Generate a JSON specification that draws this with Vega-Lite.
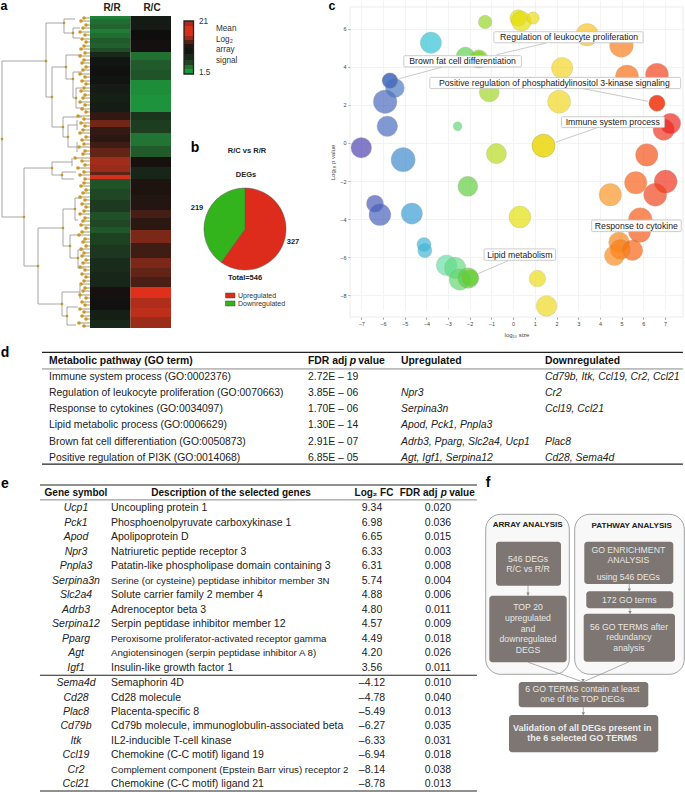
{"$schema":"https://vega.github.io/schema/vega-lite/v6.json","padding":0,"background":"white","config":{"font":"Liberation Sans","view":{"stroke":null}},"spacing":0,"resolve":{"scale":{"color":"independent","size":"independent"}},"vconcat":[
{"bounds":"flush","spacing":0,"resolve":{"scale":{"color":"independent","size":"independent"}},"hconcat":[
{"width":175,"height":345,"encoding":{"x":{"field":"x","type":"quantitative","axis":null,"scale":{"domain":[0,175],"nice":false,"zero":false}},"y":{"field":"y","type":"quantitative","axis":null,"scale":{"domain":[345,0],"nice":false,"zero":false}}},"layer":[
{"data":{"values":[{"x":90,"x2":130.5,"y":16,"y2":19,"v":-0.8},{"x":90,"x2":130.5,"y":19,"y2":24,"v":-0.68},{"x":90,"x2":130.5,"y":24,"y2":29,"v":-0.62},{"x":90,"x2":130.5,"y":29,"y2":33,"v":-0.78},{"x":90,"x2":130.5,"y":33,"y2":38,"v":-0.68},{"x":90,"x2":130.5,"y":38,"y2":43,"v":-0.55},{"x":90,"x2":130.5,"y":43,"y2":48,"v":-0.6},{"x":90,"x2":130.5,"y":48,"y2":52,"v":-0.45},{"x":90,"x2":130.5,"y":52,"y2":57,"v":-0.2},{"x":90,"x2":130.5,"y":57,"y2":66,"v":-0.05},{"x":90,"x2":130.5,"y":66,"y2":76,"v":-0.02},{"x":90,"x2":130.5,"y":76,"y2":84,"v":-0.04},{"x":90,"x2":130.5,"y":84,"y2":93,"v":-0.1},{"x":90,"x2":130.5,"y":93,"y2":103,"v":-0.12},{"x":90,"x2":130.5,"y":103,"y2":112,"v":-0.1},{"x":90,"x2":130.5,"y":112,"y2":120,"v":0.17},{"x":90,"x2":130.5,"y":120,"y2":127,"v":0.5},{"x":90,"x2":130.5,"y":127,"y2":135,"v":0.18},{"x":90,"x2":130.5,"y":135,"y2":142,"v":0.14},{"x":90,"x2":130.5,"y":142,"y2":148,"v":0.25},{"x":90,"x2":130.5,"y":148,"y2":157,"v":0.42},{"x":90,"x2":130.5,"y":157,"y2":165,"v":0.72},{"x":90,"x2":130.5,"y":165,"y2":172,"v":0.68},{"x":90,"x2":130.5,"y":172,"y2":175,"v":0.4},{"x":90,"x2":130.5,"y":175,"y2":179,"v":0.95},{"x":90,"x2":130.5,"y":179,"y2":189,"v":-0.5},{"x":90,"x2":130.5,"y":189,"y2":200,"v":-0.42},{"x":90,"x2":130.5,"y":200,"y2":212,"v":-0.33},{"x":90,"x2":130.5,"y":212,"y2":220,"v":-0.48},{"x":90,"x2":130.5,"y":220,"y2":227,"v":-0.42},{"x":90,"x2":130.5,"y":227,"y2":233,"v":-0.52},{"x":90,"x2":130.5,"y":233,"y2":245,"v":-0.38},{"x":90,"x2":130.5,"y":245,"y2":258,"v":-0.3},{"x":90,"x2":130.5,"y":258,"y2":272,"v":-0.22},{"x":90,"x2":130.5,"y":272,"y2":287,"v":-0.18},{"x":90,"x2":130.5,"y":287,"y2":298,"v":0.03},{"x":90,"x2":130.5,"y":298,"y2":310,"v":-0.02},{"x":90,"x2":130.5,"y":310,"y2":320,"v":-0.12},{"x":90,"x2":130.5,"y":320,"y2":328,"v":-0.2},
{"x":130.5,"x2":171,"y":16,"y2":30,"v":-0.08},{"x":130.5,"x2":171,"y":30,"y2":40,"v":0},{"x":130.5,"x2":171,"y":40,"y2":52,"v":0.02},{"x":130.5,"x2":171,"y":52,"y2":60,"v":-0.7},{"x":130.5,"x2":171,"y":60,"y2":70,"v":-0.55},{"x":130.5,"x2":171,"y":70,"y2":80,"v":-0.5},{"x":130.5,"x2":171,"y":80,"y2":95,"v":-0.88},{"x":130.5,"x2":171,"y":95,"y2":112,"v":-0.92},{"x":130.5,"x2":171,"y":112,"y2":120,"v":-0.28},{"x":130.5,"x2":171,"y":120,"y2":133,"v":-0.35},{"x":130.5,"x2":171,"y":133,"y2":146,"v":-0.72},{"x":130.5,"x2":171,"y":146,"y2":157,"v":-0.55},{"x":130.5,"x2":171,"y":157,"y2":167,"v":0.03},{"x":130.5,"x2":171,"y":167,"y2":179,"v":-0.18},{"x":130.5,"x2":171,"y":179,"y2":195,"v":0.07},{"x":130.5,"x2":171,"y":195,"y2":210,"v":0.1},{"x":130.5,"x2":171,"y":210,"y2":218,"v":0.28},{"x":130.5,"x2":171,"y":218,"y2":230,"v":0.15},{"x":130.5,"x2":171,"y":230,"y2":243,"v":0.55},{"x":130.5,"x2":171,"y":243,"y2":258,"v":0.25},{"x":130.5,"x2":171,"y":258,"y2":268,"v":0.55},{"x":130.5,"x2":171,"y":268,"y2":277,"v":0.42},{"x":130.5,"x2":171,"y":277,"y2":287,"v":0.3},{"x":130.5,"x2":171,"y":287,"y2":298,"v":1},{"x":130.5,"x2":171,"y":298,"y2":308,"v":0.78},{"x":130.5,"x2":171,"y":308,"y2":317,"v":0.85},{"x":130.5,"x2":171,"y":317,"y2":328,"v":0.7}]},"mark":"rect","encoding":{"x2":{"field":"x2"},"y2":{"field":"y2"},"color":{"field":"v","type":"quantitative","legend":null,"scale":{"domain":[-1,0,1],"range":["#17a040","#0e0e0e","#e0301c"]}}}},
{"data":{"values":[{"x":2,"y":61,"x2":2,"y2":217},{"x":2,"y":61,"x2":46,"y2":61},{"x":2,"y":217,"x2":24,"y2":217},{"x":46,"y":23,"x2":46,"y2":97},{"x":46,"y":23,"x2":64,"y2":23},{"x":46,"y":97,"x2":52,"y2":97},{"x":64,"y":19,"x2":64,"y2":33},{"x":64,"y":19,"x2":75,"y2":19},{"x":64,"y":33,"x2":73,"y2":33},{"x":73,"y":28,"x2":73,"y2":38},{"x":73,"y":28,"x2":80,"y2":28},{"x":73,"y":38,"x2":80,"y2":38},{"x":52,"y":67,"x2":52,"y2":127},{"x":52,"y":67,"x2":66,"y2":67},{"x":52,"y":127,"x2":63,"y2":127},{"x":66,"y":55,"x2":66,"y2":79},{"x":66,"y":55,"x2":82,"y2":55},{"x":66,"y":79,"x2":73,"y2":79},{"x":73,"y":72,"x2":73,"y2":98},{"x":73,"y":72,"x2":82,"y2":72},{"x":73,"y":98,"x2":76,"y2":98},{"x":76,"y":88,"x2":76,"y2":108},{"x":76,"y":88,"x2":84,"y2":88},{"x":76,"y":108,"x2":84,"y2":108},{"x":63,"y":117,"x2":63,"y2":137},{"x":63,"y":117,"x2":82,"y2":117},{"x":63,"y":137,"x2":68,"y2":137},{"x":68,"y":125,"x2":68,"y2":147},{"x":68,"y":125,"x2":77,"y2":125},{"x":68,"y":147,"x2":77,"y2":147},{"x":77,"y":120,"x2":77,"y2":130},{"x":77,"y":142,"x2":77,"y2":152},{"x":24,"y":168,"x2":24,"y2":266},{"x":24,"y":168,"x2":52,"y2":168},{"x":24,"y":266,"x2":38,"y2":266},{"x":52,"y":162,"x2":52,"y2":175},{"x":52,"y":162,"x2":72,"y2":162},{"x":52,"y":175,"x2":62,"y2":175},{"x":62,"y":172,"x2":62,"y2":179},{"x":62,"y":172,"x2":76,"y2":172},{"x":62,"y":179,"x2":74,"y2":179},{"x":72,"y":158,"x2":72,"y2":166},{"x":38,"y":228,"x2":38,"y2":304},{"x":38,"y":228,"x2":63,"y2":228},{"x":38,"y":304,"x2":62,"y2":304},{"x":63,"y":209,"x2":63,"y2":246},{"x":63,"y":209,"x2":75,"y2":209},{"x":63,"y":246,"x2":70,"y2":246},{"x":75,"y":198,"x2":75,"y2":220},{"x":75,"y":198,"x2":82,"y2":198},{"x":75,"y":220,"x2":78,"y2":220},{"x":70,"y":235,"x2":70,"y2":258},{"x":70,"y":235,"x2":79,"y2":235},{"x":70,"y":258,"x2":78,"y2":258},{"x":78,"y":250,"x2":78,"y2":268},{"x":78,"y":250,"x2":84,"y2":250},{"x":78,"y":268,"x2":84,"y2":268},{"x":62,"y":292,"x2":62,"y2":316},{"x":62,"y":292,"x2":80,"y2":292},{"x":62,"y":316,"x2":67,"y2":316},{"x":67,"y":307,"x2":67,"y2":325},{"x":67,"y":307,"x2":78,"y2":307},{"x":67,"y":325,"x2":76,"y2":325},{"x":80,"y":285,"x2":80,"y2":299}]},"mark":{"type":"rule","stroke":"#8f8f8f","strokeWidth":0.8},"encoding":{"x2":{"field":"x2"},"y2":{"field":"y2"}}},
{"data":{"values":[{"x":84,"y":18},{"x":81,"y":21},{"x":86,"y":25},{"x":83,"y":28},{"x":80,"y":32},{"x":85,"y":35},{"x":82,"y":39},{"x":86,"y":42},{"x":84,"y":46},{"x":81,"y":49},{"x":85,"y":53},{"x":80,"y":56},{"x":84,"y":60},{"x":82,"y":63},{"x":86,"y":67},{"x":83,"y":70},{"x":80,"y":74},{"x":85,"y":77},{"x":82,"y":81},{"x":86,"y":84},{"x":84,"y":88},{"x":81,"y":91},{"x":85,"y":95},{"x":83,"y":98},{"x":80,"y":102},{"x":85,"y":105},{"x":82,"y":109},{"x":86,"y":112},{"x":78,"y":116},{"x":84,"y":119},{"x":81,"y":123},{"x":85,"y":126},{"x":83,"y":130},{"x":80,"y":133},{"x":86,"y":137},{"x":82,"y":140},{"x":84,"y":144},{"x":79,"y":147},{"x":85,"y":151},{"x":83,"y":154},{"x":75,"y":158},{"x":82,"y":161},{"x":85,"y":165},{"x":78,"y":168},{"x":84,"y":172},{"x":80,"y":175},{"x":85,"y":179},{"x":84,"y":183},{"x":81,"y":186},{"x":86,"y":190},{"x":83,"y":193},{"x":80,"y":197},{"x":85,"y":200},{"x":82,"y":204},{"x":86,"y":207},{"x":84,"y":211},{"x":80,"y":214},{"x":85,"y":218},{"x":83,"y":221},{"x":81,"y":225},{"x":86,"y":228},{"x":82,"y":232},{"x":79,"y":235},{"x":85,"y":239},{"x":83,"y":242},{"x":86,"y":246},{"x":81,"y":249},{"x":84,"y":253},{"x":82,"y":256},{"x":86,"y":260},{"x":83,"y":263},{"x":80,"y":267},{"x":85,"y":270},{"x":82,"y":274},{"x":86,"y":277},{"x":84,"y":281},{"x":81,"y":284},{"x":85,"y":288},{"x":83,"y":291},{"x":80,"y":295},{"x":86,"y":298},{"x":82,"y":302},{"x":85,"y":305},{"x":80,"y":309},{"x":84,"y":312},{"x":82,"y":316},{"x":86,"y":319},{"x":79,"y":323},{"x":84,"y":326}]},"layer":[{"mark":{"type":"rule","stroke":"#a08a50","strokeWidth":0.9},"encoding":{"x2":{"datum":90}}},{"mark":{"type":"circle","color":"#c8921e","opacity":0.95,"size":13}}]},
{"data":{"values":[{"x":2,"y":139},{"x":46,"y":61},{"x":52,"y":97},{"x":64,"y":23},{"x":73,"y":33},{"x":66,"y":67},{"x":73,"y":79},{"x":76,"y":98},{"x":63,"y":127},{"x":68,"y":137},{"x":24,"y":217},{"x":52,"y":168},{"x":62,"y":175},{"x":38,"y":266},{"x":63,"y":228},{"x":75,"y":209},{"x":70,"y":246},{"x":78,"y":258},{"x":62,"y":304},{"x":67,"y":316}]},"mark":{"type":"circle","color":"#c8921e","size":7,"opacity":1}},
{"data":{"values":[{"x":112,"y":8,"t":"R/R"},{"x":152,"y":8,"t":"R/C"}]},"mark":{"type":"text","fontSize":10,"fontWeight":"bold","color":"#222"},"encoding":{"text":{"field":"t"}}},
{"data":{"values":[{"x":4,"y":10,"t":"a"}]},"mark":{"type":"text","fontSize":12.5,"fontWeight":"bold","color":"#000","baseline":"alphabetic"},"encoding":{"text":{"field":"t"}}}
]},
{"width":175,"height":345,"resolve":{"scale":{"color":"independent"}},"encoding":{"x":{"field":"x","type":"quantitative","axis":null,"scale":{"domain":[175,350],"nice":false,"zero":false}},"y":{"field":"y","type":"quantitative","axis":null,"scale":{"domain":[345,0],"nice":false,"zero":false}}},"layer":[
{"data":{"values":[{"x":184,"x2":193.5,"y":21,"y2":26,"v":0.75},{"x":184,"x2":193.5,"y":26,"y2":36,"v":0.97},{"x":184,"x2":193.5,"y":36,"y2":40,"v":0.7},{"x":184,"x2":193.5,"y":40,"y2":44,"v":0.35},{"x":184,"x2":193.5,"y":44,"y2":48,"v":0.1},{"x":184,"x2":193.5,"y":48,"y2":54,"v":-0.05},{"x":184,"x2":193.5,"y":54,"y2":60,"v":-0.2},{"x":184,"x2":193.5,"y":60,"y2":65,"v":-0.4},{"x":184,"x2":193.5,"y":65,"y2":69,"v":-0.7},{"x":184,"x2":193.5,"y":69,"y2":74,"v":-0.95}]},"mark":"rect","encoding":{"x2":{"field":"x2"},"y2":{"field":"y2"},"color":{"field":"v","type":"quantitative","legend":null,"scale":{"domain":[-1,0,1],"range":["#17a040","#0e0e0e","#e0301c"]}}}},
{"data":{"values":[{"x":184,"x2":193.5,"y":21,"y2":74}]},"mark":{"type":"rect","fillOpacity":0,"stroke":"#222","strokeWidth":1.3},"encoding":{"x2":{"field":"x2"},"y2":{"field":"y2"}}},
{"data":{"values":[{"x":199,"y":22,"t":"21"},{"x":199,"y":73,"t":"1.5"},{"x":216,"y":29,"t":"Mean"},{"x":216,"y":40,"t":"Log₂"},{"x":216,"y":50,"t":"array"},{"x":216,"y":61,"t":"signal"}]},"mark":{"type":"text","fontSize":8.2,"align":"left","color":"#333"},"encoding":{"text":{"field":"t"}}},
{"data":{"values":[{"x":332,"y":10,"t":"c"}]},"mark":{"type":"text","fontSize":12.5,"fontWeight":"bold","color":"#000","baseline":"alphabetic"},"encoding":{"text":{"field":"t"}}},
{"data":{"values":[{"x":245,"y":229,"dir":"Upregulated","count":327,"k":1},{"x":245,"y":229,"dir":"Downregulated","count":219,"k":2}]},"mark":{"type":"arc","outerRadius":41,"stroke":"#555","strokeWidth":0.5},"encoding":{"theta":{"field":"count","type":"quantitative","stack":true},"order":{"field":"k"},"color":{"field":"dir","type":"nominal","legend":null,"scale":{"domain":["Upregulated","Downregulated"],"range":["#dd2c1c","#34b41c"]}}}},
{"data":{"values":[{"x":195,"y":148,"t":"b"}]},"mark":{"type":"text","fontSize":14,"fontWeight":"bold","color":"#000"},"encoding":{"text":{"field":"t"}}},
{"data":{"values":[{"x":247,"y":151,"t":"R/C vs R/R"},{"x":246,"y":175,"t":"DEGs"},{"x":197,"y":208,"t":"219"},{"x":293,"y":242,"t":"327"},{"x":245,"y":278,"t":"Total=546"}]},"mark":{"type":"text","fontSize":7.5,"fontWeight":"bold","color":"#222"},"encoding":{"text":{"field":"t"}}},
{"data":{"values":[{"x":225.5,"x2":235,"y":293,"y2":298,"dir":"Upregulated"},{"x":225.5,"x2":235,"y":301,"y2":306,"dir":"Downregulated"}]},"mark":{"type":"rect","stroke":"#444","strokeWidth":0.5},"encoding":{"x2":{"field":"x2"},"y2":{"field":"y2"},"color":{"field":"dir","type":"nominal","legend":null,"scale":{"domain":["Upregulated","Downregulated"],"range":["#dd2c1c","#34b41c"]}}}},
{"data":{"values":[{"x":238,"y":296,"t":"Upregulated"},{"x":238,"y":304,"t":"Downregulated"}]},"mark":{"type":"text","fontSize":7,"align":"left","color":"#333"},"encoding":{"text":{"field":"t"}}}
]},
{"width":333,"height":317,"encoding":{"x":{"field":"x","type":"quantitative","scale":{"domain":[-7.52,7.83],"nice":false,"zero":false},"axis":{"values":[-7,-6,-5,-4,-3,-2,-1,0,1,2,3,4,5,6,7],"title":"log₁₀ size","titleFontSize":6,"titleFontWeight":"normal","titleColor":"#444","titlePadding":5,"labelFontSize":5.5,"labelColor":"#444","tickColor":"#999","tickSize":2,"labelPadding":2,"domain":false,"gridColor":"#f3f3f3"}},"y":{"field":"y","type":"quantitative","scale":{"domain":[-9.15,7.15],"range":[317,7],"nice":false,"zero":false},"axis":{"values":[-8,-6,-4,-2,0,2,4,6],"title":"Log₁₀ p value","titleFontSize":6,"titleFontWeight":"normal","titleColor":"#444","titlePadding":4,"labelFontSize":5.5,"labelColor":"#444","tickColor":"#999","tickSize":2,"labelPadding":2,"domain":false,"gridColor":"#f3f3f3"}}},"layer":[
{"data":{"values":[{"x":-7.52,"x2":7.83,"y":-9.15,"y2":7.15}]},"mark":{"type":"rect","fillOpacity":0,"stroke":"#e6e6e6","strokeWidth":0.8},"encoding":{"x2":{"field":"x2"},"y2":{"field":"y2"}}},
{"data":{"values":[{"x":-7,"y":-0.25,"s":136},{"x":-5.9,"y":2.17,"s":178},{"x":-5.45,"y":2.89,"s":114},{"x":-5.68,"y":3.28,"s":75},{"x":-5.68,"y":3.28,"s":75},{"x":-5.8,"y":0.88,"s":136},{"x":-5.07,"y":-0.88,"s":187},{"x":-6.37,"y":-3.19,"s":93},{"x":-6.14,"y":-3.77,"s":152},{"x":-4.67,"y":-3.71,"s":144},{"x":-4.11,"y":-5.34,"s":64},{"x":-4.07,"y":-5.66,"s":64},{"x":-3.79,"y":5.27,"s":144},{"x":-2.56,"y":0.88,"s":25},{"x":-2.2,"y":4.56,"s":107},{"x":-1.58,"y":4.42,"s":107},{"x":-1.58,"y":4.42,"s":70},{"x":-1.29,"y":6.36,"s":59},{"x":-1.1,"y":2.68,"s":128},{"x":-0.77,"y":-0.56,"s":128},{"x":-2.09,"y":-2.28,"s":128},{"x":-3.07,"y":-6.43,"s":136},{"x":-2.67,"y":-6.57,"s":144},{"x":-2.46,"y":-7.18,"s":144},{"x":-2.07,"y":-7.1,"s":136},{"x":-1.97,"y":-7.1,"s":87},{"x":0.23,"y":6.57,"s":87},{"x":0.38,"y":6.4,"s":128},{"x":0.92,"y":6.57,"s":49},{"x":1.4,"y":-0.14,"s":169},{"x":1.4,"y":-0.14,"s":169},{"x":0.31,"y":-3.89,"s":152},{"x":1.12,"y":-7.13,"s":87},{"x":1.54,"y":-8.57,"s":136},{"x":2.26,"y":3.94,"s":144},{"x":2.12,"y":2.17,"s":169},{"x":3.41,"y":5.69,"s":160},{"x":4.99,"y":5.13,"s":178},{"x":5.25,"y":3.5,"s":169},{"x":6.63,"y":3.59,"s":169},{"x":6.63,"y":2.09,"s":81},{"x":6.63,"y":2.09,"s":81},{"x":6.94,"y":0.7,"s":144},{"x":7.25,"y":1.02,"s":136},{"x":6.16,"y":-0.63,"s":160},{"x":5.65,"y":-2.09,"s":160},{"x":7.03,"y":-2.03,"s":169},{"x":6.55,"y":-2.72,"s":169},{"x":4.48,"y":-2.72,"s":160},{"x":5.86,"y":-4.03,"s":178},{"x":5.83,"y":-4.64,"s":160},{"x":4.88,"y":-5.22,"s":136},{"x":5.5,"y":-5.64,"s":136},{"x":4.94,"y":-5.6,"s":128},{"x":4.67,"y":-5.92,"s":128}]},"mark":{"type":"circle","opacity":0.68,"stroke":"#8a8a6a","strokeWidth":0.3},"encoding":{"size":{"field":"s","type":"quantitative","legend":null,"scale":{"domain":[0,100],"range":[0,314]}},"color":{"field":"x","type":"quantitative","legend":null,"scale":{"domain":[-7,-5.5,-4,-3,-2,-1,0,2,3.4,4.5,5.5,7],"range":["#4b3fb0","#4a72c0","#42b8d8","#6fe0a0","#60cc30","#a8d820","#e0e000","#f2d820","#fbc020","#fb9020","#f86010","#ee2e1a"]}}}},
{"data":{"values":[{"x":1.54,"y":5.26,"x2":-0.77,"y2":4.64},{"x":-3.3,"y":3.98,"x2":-5.25,"y2":3.38},{"x":3.22,"y":2.86,"x2":6.22,"y2":2.19},{"x":3.84,"y":0.79,"x2":1.96,"y2":0.04},{"x":-0.23,"y":-6.19,"x2":-1.61,"y2":-6.87}]},"mark":{"type":"rule","stroke":"#bbb","strokeWidth":0.8},"encoding":{"x2":{"field":"x2"},"y2":{"field":"y2"}}},
{"data":{"values":[{"x":-0.89,"x2":5.99,"y":5.85,"y2":5.27},{"x":-5.04,"x2":0.38,"y":4.59,"y2":4.0},{"x":-3.84,"x2":7.72,"y":3.45,"y2":2.86},{"x":2.23,"x2":6.98,"y":1.38,"y2":0.81},{"x":3.62,"x2":7.75,"y":-4.05,"y2":-4.66},{"x":-1.34,"x2":1.96,"y":-5.57,"y2":-6.17}]},"mark":{"type":"rect","fill":"#ffffff","opacity":0.95,"stroke":"#c4c4c4","strokeWidth":0.9,"cornerRadius":1},"encoding":{"x2":{"field":"x2"},"y2":{"field":"y2"}}},
{"data":{"values":[{"x":2.58,"y":5.56,"t":"Regulation of leukocyte proliferation"},{"x":-2.33,"y":4.29,"t":"Brown fat cell differentiation"},{"x":1.9,"y":3.15,"t":"Positive regulation of phosphatidylinositol 3-kinase signaling"},{"x":4.59,"y":1.1,"t":"Immune system process"},{"x":5.68,"y":-4.35,"t":"Response to cytokine"},{"x":0.31,"y":-5.87,"t":"Lipid metabolism"}]},"mark":{"type":"text","fontSize":8.7,"color":"#222"},"encoding":{"text":{"field":"t"}}}
]}
]},
{"width":685,"height":130,"encoding":{"x":{"field":"col","type":"quantitative","axis":null,"scale":{"domain":[0,1,2,3],"range":[49,308,401,545],"nice":false,"zero":false}},"y":{"field":"row","type":"quantitative","axis":null,"scale":{"domain":[0,6],"range":[15.7,112.7],"nice":false,"zero":false}}},"layer":[
{"data":{"values":[{"col":-0.027,"col2":3.958,"row":-0.52},{"col":-0.027,"col2":3.958,"row":6.4}]},"mark":{"type":"rule","stroke":"#222","strokeWidth":1.2},"encoding":{"x2":{"field":"col2"}}},
{"data":{"values":[{"col":-0.027,"col2":3.958,"row":0.51}]},"mark":{"type":"rule","stroke":"#555","strokeWidth":0.7},"encoding":{"x2":{"field":"col2"}}},
{"data":{"values":[{"col":-0.17,"row":-0.5,"t":"d"}]},"mark":{"type":"text","fontSize":14,"fontWeight":"bold","color":"#000"},"encoding":{"text":{"field":"t"}}},
{"data":{"values":[{"col":0,"row":0,"t":"Metabolic pathway (GO term)"},{"col":1,"row":0,"t":"FDR adj"},{"col":1.54,"row":0,"t":"value"},{"col":2,"row":0,"t":"Upregulated"},{"col":3,"row":0,"t":"Downregulated"}]},"mark":{"type":"text","fontSize":10.4,"fontWeight":"bold","align":"left","color":"#111"},"encoding":{"text":{"field":"t"}}},
{"data":{"values":[{"col":1.45,"row":0,"t":"p"}]},"mark":{"type":"text","fontSize":10.4,"fontWeight":"bold","fontStyle":"italic","align":"left","color":"#111"},"encoding":{"text":{"field":"t"}}},
{"data":{"values":[{"col":0,"row":1,"t":"Immune system process (GO:0002376)"},{"col":1,"row":1,"t":"2.72E – 19"},{"col":0,"row":2,"t":"Regulation of leukocyte proliferation (GO:0070663)"},{"col":1,"row":2,"t":"3.85E – 06"},{"col":0,"row":3,"t":"Response to cytokines (GO:0034097)"},{"col":1,"row":3,"t":"1.70E – 06"},{"col":0,"row":4,"t":"Lipid metabolic process (GO:0006629)"},{"col":1,"row":4,"t":"1.30E – 14"},{"col":0,"row":5,"t":"Brown fat cell differentiation (GO:0050873)"},{"col":1,"row":5,"t":"2.91E – 07"},{"col":0,"row":6,"t":"Positive regulation of PI3K (GO:0014068)"},{"col":1,"row":6,"t":"6.85E – 05"}]},"mark":{"type":"text","fontSize":10.4,"align":"left","color":"#222"},"encoding":{"text":{"field":"t"}}},
{"data":{"values":[{"col":3,"row":1,"t":"Cd79b, Itk, Ccl19, Cr2, Ccl21"},{"col":2,"row":2,"t":"Npr3"},{"col":3,"row":2,"t":"Cr2"},{"col":2,"row":3,"t":"Serpina3n"},{"col":3,"row":3,"t":"Ccl19, Ccl21"},{"col":2,"row":4,"t":"Apod, Pck1, Pnpla3"},{"col":2,"row":5,"t":"Adrb3, Pparg, Slc2a4, Ucp1"},{"col":3,"row":5,"t":"Plac8"},{"col":2,"row":6,"t":"Agt, Igf1, Serpina12"},{"col":3,"row":6,"t":"Cd28, Sema4d"}]},"mark":{"type":"text","fontSize":10.4,"fontStyle":"italic","align":"left","color":"#222"},"encoding":{"text":{"field":"t"}}}
]},
{"bounds":"flush","spacing":0,"hconcat":[
{"width":480,"height":317,"encoding":{"x":{"field":"col","type":"quantitative","axis":null,"scale":{"domain":[0,1,2,3],"range":[76,111,372,438],"nice":false,"zero":false}},"y":{"field":"row","type":"quantitative","axis":null,"scale":{"domain":[0,1,12,13,20],"range":[18.3,33.3,193,208.3,309],"nice":false,"zero":false}}},"layer":[
{"data":{"values":[{"col":-1.03,"col2":3.59,"row":-0.55},{"col":-1.03,"col2":3.59,"row":12.47},{"col":-1.03,"col2":3.59,"row":20.49}]},"mark":{"type":"rule","stroke":"#222","strokeWidth":1.1},"encoding":{"x2":{"field":"col2"}}},
{"data":{"values":[{"col":-1.03,"col2":3.59,"row":0.44}]},"mark":{"type":"rule","stroke":"#555","strokeWidth":0.7},"encoding":{"x2":{"field":"col2"}}},
{"data":{"values":[{"col":-2.03,"row":-0.6,"t":"e"}]},"mark":{"type":"text","fontSize":14,"fontWeight":"bold","color":"#000"},"encoding":{"text":{"field":"t"}}},
{"data":{"values":[{"col":0,"row":0,"t":"Gene symbol"},{"col":1.46,"row":0,"t":"Description of the selected genes"},{"col":2.03,"row":0,"t":"Log₂ FC"}]},"mark":{"type":"text","fontSize":10,"fontWeight":"bold","color":"#111"},"encoding":{"text":{"field":"t"}}},
{"data":{"values":[{"col":2.42,"row":0,"t":"FDR adj"},{"col":3.17,"row":0,"t":"value"}]},"mark":{"type":"text","fontSize":10,"fontWeight":"bold","align":"left","color":"#111"},"encoding":{"text":{"field":"t"}}},
{"data":{"values":[{"col":3.04,"row":0,"t":"p"}]},"mark":{"type":"text","fontSize":10,"fontWeight":"bold","fontStyle":"italic","align":"left","color":"#111"},"encoding":{"text":{"field":"t"}}},
{"data":{"values":[{"col":0,"row":1,"t":"Ucp1"},{"col":0,"row":2,"t":"Pck1"},{"col":0,"row":3,"t":"Apod"},{"col":0,"row":4,"t":"Npr3"},{"col":0,"row":5,"t":"Pnpla3"},{"col":0,"row":6,"t":"Serpina3n"},{"col":0,"row":7,"t":"Slc2a4"},{"col":0,"row":8,"t":"Adrb3"},{"col":0,"row":9,"t":"Serpina12"},{"col":0,"row":10,"t":"Pparg"},{"col":0,"row":11,"t":"Agt"},{"col":0,"row":12,"t":"Igf1"},{"col":0,"row":13,"t":"Sema4d"},{"col":0,"row":14,"t":"Cd28"},{"col":0,"row":15,"t":"Plac8"},{"col":0,"row":16,"t":"Cd79b"},{"col":0,"row":17,"t":"Itk"},{"col":0,"row":18,"t":"Ccl19"},{"col":0,"row":19,"t":"Cr2"},{"col":0,"row":20,"t":"Ccl21"}]},"mark":{"type":"text","fontSize":10.5,"fontStyle":"italic","color":"#222"},"encoding":{"text":{"field":"t"}}},
{"data":{"values":[{"col":1,"row":1,"t":"Uncoupling protein 1"},{"col":1,"row":2,"t":"Phosphoenolpyruvate carboxykinase 1"},{"col":1,"row":3,"t":"Apolipoprotein D"},{"col":1,"row":4,"t":"Natriuretic peptide receptor 3"},{"col":1,"row":5,"t":"Patatin-like phospholipase domain containing 3"},{"col":1,"row":7,"t":"Solute carrier family 2 member 4"},{"col":1,"row":8,"t":"Adrenoceptor beta 3"},{"col":1,"row":9,"t":"Serpin peptidase inhibitor member 12"},{"col":1,"row":12,"t":"Insulin-like growth factor 1"},{"col":1,"row":13,"t":"Semaphorin 4D"},{"col":1,"row":14,"t":"Cd28 molecule"},{"col":1,"row":15,"t":"Placenta-specific 8"},{"col":1,"row":16,"t":"Cd79b molecule, immunoglobulin-associated beta"},{"col":1,"row":17,"t":"IL2-inducible T-cell kinase"},{"col":1,"row":18,"t":"Chemokine (C-C motif) ligand 19"},{"col":1,"row":20,"t":"Chemokine (C-C motif) ligand 21"}]},"mark":{"type":"text","fontSize":10.5,"align":"left","color":"#222"},"encoding":{"text":{"field":"t"}}},
{"data":{"values":[{"col":1,"row":6,"t":"Serine (or cysteine) peptidase inhibitor member 3N"},{"col":1,"row":10,"t":"Peroxisome proliferator-activated receptor gamma"},{"col":1,"row":11,"t":"Angiotensinogen (serpin peptidase inhibitor A 8)"},{"col":1,"row":19,"t":"Complement component (Epstein Barr virus) receptor 2"}]},"mark":{"type":"text","fontSize":9.7,"align":"left","color":"#222"},"encoding":{"text":{"field":"t"}}},
{"data":{"values":[{"col":2,"row":1,"t":"9.34"},{"col":3,"row":1,"t":"0.020"},{"col":2,"row":2,"t":"6.98"},{"col":3,"row":2,"t":"0.036"},{"col":2,"row":3,"t":"6.65"},{"col":3,"row":3,"t":"0.015"},{"col":2,"row":4,"t":"6.33"},{"col":3,"row":4,"t":"0.003"},{"col":2,"row":5,"t":"6.31"},{"col":3,"row":5,"t":"0.008"},{"col":2,"row":6,"t":"5.74"},{"col":3,"row":6,"t":"0.004"},{"col":2,"row":7,"t":"4.88"},{"col":3,"row":7,"t":"0.006"},{"col":2,"row":8,"t":"4.80"},{"col":3,"row":8,"t":"0.011"},{"col":2,"row":9,"t":"4.57"},{"col":3,"row":9,"t":"0.009"},{"col":2,"row":10,"t":"4.49"},{"col":3,"row":10,"t":"0.018"},{"col":2,"row":11,"t":"4.20"},{"col":3,"row":11,"t":"0.026"},{"col":2,"row":12,"t":"3.56"},{"col":3,"row":12,"t":"0.011"},{"col":2,"row":13,"t":"–4.12"},{"col":3,"row":13,"t":"0.010"},{"col":2,"row":14,"t":"–4.78"},{"col":3,"row":14,"t":"0.040"},{"col":2,"row":15,"t":"–5.49"},{"col":3,"row":15,"t":"0.013"},{"col":2,"row":16,"t":"–6.27"},{"col":3,"row":16,"t":"0.035"},{"col":2,"row":17,"t":"–6.33"},{"col":3,"row":17,"t":"0.031"},{"col":2,"row":18,"t":"–6.94"},{"col":3,"row":18,"t":"0.018"},{"col":2,"row":19,"t":"–8.14"},{"col":3,"row":19,"t":"0.038"},{"col":2,"row":20,"t":"–8.78"},{"col":3,"row":20,"t":"0.013"}]},"mark":{"type":"text","fontSize":10.5,"color":"#222"},"encoding":{"text":{"field":"t"}}}
]},
{"width":205,"height":317,"encoding":{"x":{"field":"x","type":"quantitative","axis":null,"scale":{"domain":[480,685],"nice":false,"zero":false}},"y":{"field":"y","type":"quantitative","axis":null,"scale":{"domain":[792,475],"nice":false,"zero":false}}},"layer":[
{"data":{"values":[{"x":485.7,"x2":569.3,"y":514.3,"y2":674.3},{"x":574.7,"x2":684.3,"y":514.3,"y2":674.3}]},"mark":{"type":"rect","fill":"#f8f8f8","stroke":"#8c8c8c","strokeWidth":0.8,"cornerRadius":15},"encoding":{"x2":{"field":"x2"},"y2":{"field":"y2"}}},
{"data":{"values":[{"x":528,"y":585.7,"x2":528,"y2":595.7},{"x":629.3,"y":584,"x2":629.3,"y2":591.3},{"x":630,"y":608.3,"x2":630,"y2":613.7},{"x":528.3,"y":662.3,"x2":583,"y2":682},{"x":629.3,"y":661.7,"x2":583,"y2":682},{"x":583.3,"y":707.3,"x2":583.3,"y2":715}]},"mark":{"type":"rule","stroke":"#999","strokeWidth":0.8},"encoding":{"x2":{"field":"x2"},"y2":{"field":"y2"}}},
{"data":{"values":[{"x":528,"y":594},{"x":629.3,"y":590},{"x":630,"y":612.5},{"x":583,"y":680.5},{"x":583.3,"y":713.7}]},"mark":{"type":"point","shape":"triangle-down","filled":true,"color":"#888","size":12,"opacity":1}},
{"data":{"values":[{"x":496,"x2":561,"y":541.7,"y2":585.7},{"x":489.3,"x2":566.7,"y":595.7,"y2":662.3},{"x":584.3,"x2":673.3,"y":541.7,"y2":584},{"x":586.3,"x2":673.3,"y":591.3,"y2":608.3},{"x":583.7,"x2":675,"y":613.7,"y2":661.7},{"x":518.7,"x2":648.3,"y":682,"y2":707.3},{"x":509,"x2":658.3,"y":715,"y2":752.3}]},"mark":{"type":"rect","fill":"#7d7672","cornerRadius":3},"encoding":{"x2":{"field":"x2"},"y2":{"field":"y2"}}},
{"data":{"values":[{"x":528,"y":558.7,"t":"546 DEGs"},{"x":528,"y":569,"t":"R/C vs R/R"},{"x":528,"y":607,"t":"TOP 20"},{"x":528,"y":617.7,"t":"upregulated"},{"x":528,"y":628.7,"t":"and"},{"x":528,"y":639.3,"t":"downregulated"},{"x":528,"y":650,"t":"DEGS"},{"x":628.3,"y":550,"t":"GO ENRICHMENT"},{"x":628.3,"y":560,"t":"ANALYSIS"},{"x":628.3,"y":576.7,"t":"using 546 DEGs"},{"x":629.3,"y":599.7,"t":"172 GO terms"},{"x":629,"y":626.7,"t":"56 GO TERMS after"},{"x":629,"y":637.3,"t":"redundancy"},{"x":629,"y":647.7,"t":"analysis"},{"x":582.3,"y":688.7,"t":"6 GO TERMS contain at least"},{"x":582.3,"y":699.3,"t":"one of the TOP DEGs"}]},"mark":{"type":"text","fontSize":8.7,"color":"#e8e6e4"},"encoding":{"text":{"field":"t"}}},
{"data":{"values":[{"x":582.3,"y":727.7,"t":"Validation of all DEGs present in"},{"x":582.3,"y":738.3,"t":"the 6 selected GO TERMS"}]},"mark":{"type":"text","fontSize":9,"fontWeight":"bold","color":"#ecebe9"},"encoding":{"text":{"field":"t"}}},
{"data":{"values":[{"x":527.7,"y":525,"t":"ARRAY ANALYSIS"},{"x":631.7,"y":526,"t":"PATHWAY ANALYSIS"}]},"mark":{"type":"text","fontSize":8.1,"fontWeight":"bold","color":"#222"},"encoding":{"text":{"field":"t"}}},
{"data":{"values":[{"x":488,"y":483,"t":"f"}]},"mark":{"type":"text","fontSize":14,"fontWeight":"bold","color":"#000"},"encoding":{"text":{"field":"t"}}}
]}
]}
]}
